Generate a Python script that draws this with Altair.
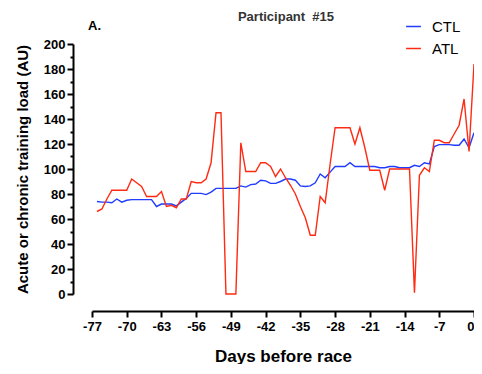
import altair as alt
import pandas as pd

days = list(range(-76, 1))

atl = [66, 68, 76, 83, 83, 83, 83, 92, 89, 86,
       78, 78, 78, 82, 70, 71, 69, 76, 76, 90,
       89, 89, 92, 105, 145, 145, 0, 0, 0, 121,
       98, 98, 98, 105, 105, 102, 94, 100, 93, 87,
       80, 70, 61, 47, 47, 78, 73, 104, 133, 133,
       133, 133, 120, 133, 117, 99, 99, 99, 83, 100,
       100, 100, 100, 100, 1, 95, 101, 98, 123, 123,
       121, 121, 128, 135, 156, 114, 184]

ctl = [74, 73.5, 73.5, 73, 76, 73.5, 75, 75.5, 75.5, 75.5,
       75.5, 75.5, 70, 72, 72, 72, 70.5, 73.5, 76.5, 80.5,
       80.5, 80.5, 79.5, 81.5, 84.5, 84.5, 84.5, 84.5, 84.5, 86.5,
       85.5, 87.5, 88, 91, 90.5, 88.5, 88.5, 90, 92, 92,
       91, 86.5, 86, 86.5, 89, 96, 93, 97.5, 102, 102,
       102, 105, 102, 102, 102, 102, 102, 101, 101, 102,
       102, 101, 101, 101, 103, 102, 105, 104, 118, 119.5,
       119.5, 119.5, 119, 119, 124, 117, 129]

series_names = ["CTL", "ATL"]
series_colors = ["#1f3cff", "#ff2a12"]
x_ticks = [-77, -70, -63, -56, -49, -42, -35, -28, -21, -14, -7, 0]
y_ticks = list(range(0, 201, 10))

df = pd.DataFrame({
    "day": days * 2,
    "value": ctl + atl,
    "series": ["CTL"] * len(ctl) + ["ATL"] * len(atl),
    "order": [0] * len(ctl) + [1] * len(atl),
})

FONT = "Liberation Sans"
W = 382

lines = alt.Chart(df).mark_line(strokeWidth=1.4).encode(
    x=alt.X("day:Q",
            scale=alt.Scale(domain=[-77, 0], nice=False, zero=False),
            axis=alt.Axis(values=x_ticks, title="Days before race", offset=17,
                          tickSize=6, tickWidth=2, domainWidth=2,
                          domainColor="black", tickColor="black",
                          labelFont=FONT, labelFontSize=13, labelFontWeight="bold",
                          labelColor="black", labelPadding=3, labelFlush=False,
                          labelAlign={"condition": {"test": "datum.value === 0", "value": "right"}, "value": "center"},
                          labelExpr="'' + datum.value",
                          titleFont=FONT, titleFontSize=17, titleFontWeight="bold",
                          titleColor="black", titlePadding=15, grid=False)),
    y=alt.Y("value:Q",
            scale=alt.Scale(domain=[0, 200], nice=False),
            axis=alt.Axis(values=y_ticks, title="Acute or chronic training load (AU)",
                          offset=19,
                          tickSize={"condition": {"test": "datum.value % 20 === 0", "value": 6}, "value": 3},
                          tickWidth=2, domainWidth=2,
                          domainColor="black", tickColor="black",
                          labelFont=FONT, labelFontSize=13, labelFontWeight="bold",
                          labelColor="black", labelPadding=2,
                          labelExpr="datum.value % 20 === 0 ? datum.label : ''",
                          titleFont=FONT, titleFontSize=15, titleFontWeight="bold",
                          titleColor="black", titlePadding=13, grid=False)),
    color=alt.Color("series:N",
                    scale=alt.Scale(domain=series_names, range=series_colors),
                    legend=alt.Legend(title=None, orient="none", legendX=313, legendY=-26,
                                      symbolType="stroke", symbolStrokeWidth=1.5,
                                      symbolSize=220, labelFont=FONT, labelFontSize=15,
                                      labelColor="black", rowPadding=5, labelOffset=10)),
    order=alt.Order("order:Q"),
    detail="series:N",
)

label_df = pd.DataFrame({"t": ["A."]})
panel = alt.Chart(label_df).mark_text(
    font=FONT, fontSize=13, fontWeight="bold", align="left", baseline="middle", color="black"
).encode(text="t:N", x=alt.value(-4), y=alt.value(-18))

title_df = pd.DataFrame({"t": ["Participant\u00a0 #15"]})
title = alt.Chart(title_df).mark_text(
    font=FONT, fontSize=13, fontWeight="bold", align="center", baseline="middle", color="#333333"
).encode(text="t:N", x=alt.value(194), y=alt.value(-27))

chart = alt.layer(lines, panel, title).properties(
    width=W, height=250,
    autosize=alt.AutoSizeParams(type="none"),
    padding={"left": 84, "top": 36, "right": 0, "bottom": 70},
).configure_view(stroke=None)

chart.save("out.html", embed_options={"renderer": "svg", "actions": False})
